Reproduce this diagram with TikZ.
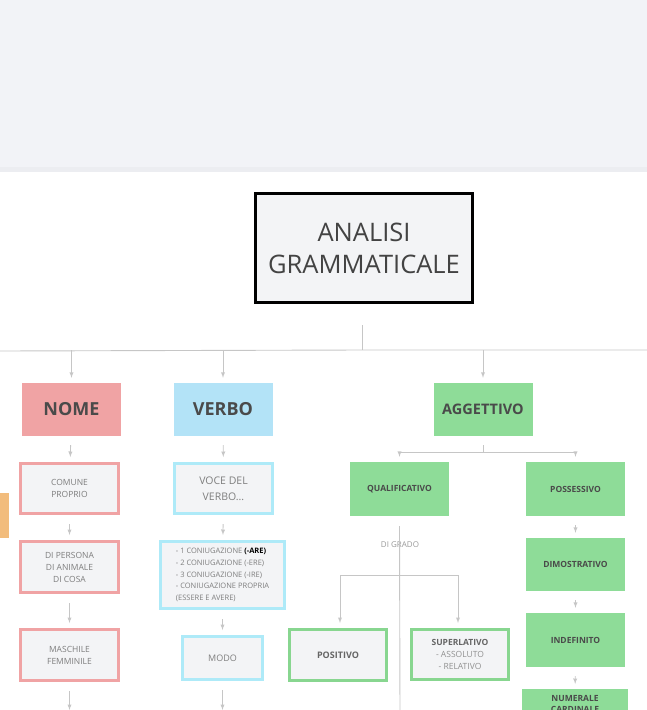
\documentclass[tikz,border=0pt]{standalone}
\usepackage{fontspec}
\setmainfont{Open Sans}
\usetikzlibrary{positioning}
\definecolor{bandgray}{HTML}{F2F3F7}
\definecolor{bandedge}{HTML}{ECEDF1}
\definecolor{paper}{HTML}{F3F4F6}
\definecolor{linegray}{HTML}{C6C6C6}
\definecolor{txtgray}{HTML}{4A4A4A}
\definecolor{lightgray}{HTML}{7E7E7E}
\definecolor{nomered}{HTML}{F0A3A4}
\definecolor{verboblue}{HTML}{B3E3F7}
\definecolor{verboedge}{HTML}{AEEAF8}
\definecolor{agggreen}{HTML}{8EDC98}
\definecolor{aggedge}{HTML}{88D690}
\definecolor{orangetab}{HTML}{F2BC7C}
\tikzset{
  titlebox/.style={draw=black, line width=3pt, fill=paper, align=center, text=txtgray!90!black,
    minimum width=217pt, minimum height=109pt, font=\fontsize{25.5}{32}\selectfont},
  catbox/.style={minimum width=99pt, minimum height=53pt, text=txtgray,
    font=\fontsize{18}{20}\selectfont\bfseries},
  subbox/.style={draw, line width=3pt, fill=paper, align=center, text=lightgray,
    minimum width=98pt, minimum height=50pt, font=\fontsize{8.5}{12}\selectfont},
  greenbox/.style={fill=agggreen, align=center, text=txtgray,
    minimum width=99pt, minimum height=54pt, font=\fontsize{8.5}{11}\selectfont\bfseries},
  link/.style={draw=linegray, line width=0.9pt},
  drop/.style={link, ->, shorten >=5pt},
  arr/.style={link, ->, shorten <=9pt, shorten >=5pt}
}
\begin{document}
\begin{tikzpicture}[x=1pt, y=-1pt, >=latex]
\useasboundingbox (0,0) rectangle (647,710);
\clip (0,0) rectangle (647,710);
\fill[bandgray] (0,0) rectangle (647,172);
\fill[bandedge] (0,167) rectangle (647,172);
\fill[orangetab] (0,493) rectangle (9,538);

\node[titlebox] (title) at (364,248) {ANALISI\\GRAMMATICALE};

\node[catbox, fill=nomered] (nome) at (71.5,409.5) {NOME};
\node[catbox, fill=verboblue] (verbo) at (223,409.5) {VERBO};
\node[catbox, fill=agggreen, font=\fontsize{14.5}{16}\selectfont\bfseries] (agg) at (483,409.5) {AGGETTIVO};

\node[subbox, draw=nomered] (comune) at (69.5,488.5) {COMUNE\\PROPRIO};
\node[subbox, draw=nomered, minimum height=51pt] (persona) at (69.5,567) {DI PERSONA\\DI ANIMALE\\DI COSA};
\node[subbox, draw=nomered, minimum height=51pt] (maschile) at (69.5,655) {MASCHILE\\FEMMINILE};

\node[subbox, draw=verboedge, font=\fontsize{10.5}{16}\selectfont] (voce) at (223.5,488.5) {VOCE DEL\\VERBO...};
\node[subbox, draw=verboedge, align=left, minimum width=124pt, minimum height=67pt,
  font=\fontsize{7.5}{11.6}\selectfont] (coniug) at (222.5,575)
  {- 1 CONIUGAZIONE {\color{black}\bfseries(-ARE)}\\- 2 CONIUGAZIONE (-ERE)\\- 3 CONIUGAZIONE (-IRE)\\- CONIUGAZIONE PROPRIA\\(ESSERE E AVERE)};
\node[subbox, draw=verboedge, minimum width=80pt, minimum height=43pt, font=\fontsize{9}{12}\selectfont] (modo) at (222.5,658) {MODO};

\node[greenbox] (qualif) at (399.5,489) {QUALIFICATIVO};
\node[greenbox] (poss) at (575.5,489) {POSSESSIVO};
\node[greenbox, minimum height=53pt] (dimos) at (575.5,564.5) {DIMOSTRATIVO};
\node[greenbox] (indef) at (575.5,640) {INDEFINITO};
\node[greenbox, minimum width=106pt, minimum height=30pt, anchor=north] (numer) at (575,689) {NUMERALE\\CARDINALE};

\node[text=lightgray!80, font=\fontsize{8}{10}\selectfont] (grado) at (400,545) {DI GRADO};
\node[subbox, draw=aggedge, minimum width=97pt, minimum height=51pt, text=txtgray!85,
  font=\fontsize{9}{12}\selectfont\bfseries] (positivo) at (338,655) {POSITIVO};
\node[subbox, draw=aggedge, minimum width=97pt, minimum height=50pt, text=txtgray!85,
  font=\fontsize{8.5}{12}\selectfont\bfseries] (superl) at (460,654.5)
  {SUPERLATIVO\\{\mdseries\color{lightgray!85}- ASSOLUTO}\\{\mdseries\color{lightgray!85}- RELATIVO}};

\coordinate (bus) at (362,350);
\coordinate (busL) at (0,351);
\coordinate (busR) at (647,350);
\coordinate (aggsplit) at (483,452);
\coordinate (gradosplit) at (400,575);
\coordinate (gradoend) at (400,715);
\coordinate (nomeend) at (69.5,715);
\coordinate (verboend) at (222.5,715);

\draw[link] ([yshift=-21pt]title.south -| bus) -- (bus);
\draw[link] (busL) -- (bus) -- (busR);
\foreach \n in {nome, verbo, agg}
  \draw[drop] (\n |- bus) -- (\n.north);

\draw[arr] (nome) -- (comune);
\draw[arr] (comune) -- (persona);
\draw[arr] (persona) -- (maschile);
\draw[arr] (maschile) -- (nomeend);
\draw[arr] (verbo) -- (voce);
\draw[arr] (voce) -- (coniug);
\draw[arr] (coniug) -- (modo);
\draw[arr] (modo) -- (verboend);
\draw[arr] (poss) -- (dimos);
\draw[arr] (dimos) -- (indef);
\draw[arr] (indef) -- (numer);

\draw[link] ([yshift=-9pt]agg.south) -- (aggsplit);
\draw[drop] (aggsplit) -| (qualif.north);
\draw[drop] (aggsplit) -| (poss.north);
\draw[link] ([yshift=-10pt]qualif.south) -- (gradoend);
\draw[drop] (gradosplit) -| ([xshift=2pt]positivo.north);
\draw[drop] (gradosplit) -| ([xshift=-2pt]superl.north);
\end{tikzpicture}
\end{document}
